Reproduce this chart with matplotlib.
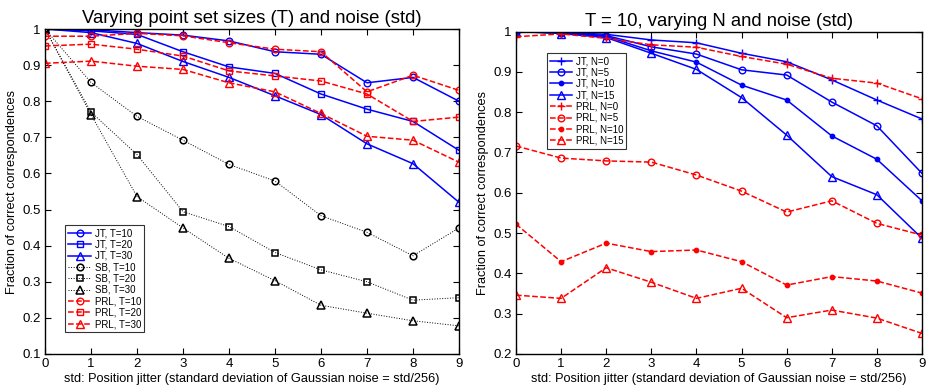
import matplotlib
matplotlib.use("Agg")
import matplotlib.pyplot as plt
import numpy as np

plt.rcParams['font.family'] = ['Liberation Sans', 'DejaVu Sans']

std = [0, 1, 2, 3, 4, 5, 6, 7, 8, 9]

# Left panel: varying point set sizes T
jt_t10 = [1.0, 0.998, 0.99, 0.983, 0.967, 0.937, 0.93, 0.851, 0.866, 0.80]
jt_t20 = [1.0, 0.995, 0.985, 0.937, 0.895, 0.877, 0.82, 0.778, 0.744, 0.664]
jt_t30 = [1.0, 0.99, 0.96, 0.91, 0.866, 0.815, 0.763, 0.682, 0.627, 0.52]
sb_t10 = [1.0, 0.852, 0.758, 0.692, 0.625, 0.579, 0.483, 0.437, 0.372, 0.449]
sb_t20 = [1.0, 0.770, 0.652, 0.494, 0.453, 0.381, 0.333, 0.30, 0.249, 0.256]
sb_t30 = [1.0, 0.763, 0.536, 0.449, 0.365, 0.303, 0.235, 0.213, 0.192, 0.178]
prl_t10 = [0.98, 0.98, 0.988, 0.981, 0.962, 0.944, 0.937, 0.826, 0.872, 0.83]
prl_t20 = [0.953, 0.958, 0.944, 0.925, 0.884, 0.87, 0.856, 0.82, 0.744, 0.756]
prl_t30 = [0.905, 0.911, 0.897, 0.888, 0.851, 0.826, 0.766, 0.703, 0.692, 0.631]

# Right panel: T = 10, varying outliers N
jt_n0 = [1.0, 0.998, 0.993, 0.979, 0.972, 0.946, 0.925, 0.88, 0.83, 0.783]
jt_n5 = [1.0, 0.997, 0.99, 0.962, 0.944, 0.905, 0.892, 0.825, 0.766, 0.648]
jt_n10 = [1.0, 0.996, 0.988, 0.952, 0.924, 0.867, 0.83, 0.741, 0.683, 0.58]
jt_n15 = [1.0, 0.995, 0.985, 0.946, 0.906, 0.836, 0.743, 0.64, 0.595, 0.487]
prl_n0 = [0.987, 0.994, 0.983, 0.967, 0.961, 0.938, 0.919, 0.884, 0.872, 0.833]
prl_n5 = [0.716, 0.686, 0.679, 0.676, 0.644, 0.604, 0.552, 0.580, 0.524, 0.495]
prl_n10 = [0.522, 0.429, 0.475, 0.454, 0.458, 0.429, 0.371, 0.392, 0.381, 0.351]
prl_n15 = [0.346, 0.338, 0.414, 0.378, 0.338, 0.363, 0.29, 0.309, 0.289, 0.251]

left_yticks = [0.1, 0.2, 0.3, 0.4, 0.5, 0.6, 0.7, 0.8, 0.9, 1.0]
left_yticklabels = ['0.1', '0.2', '0.3', '0.4', '0.5', '0.6', '0.7', '0.8', '0.9', '1']
right_yticks = [0.2, 0.3, 0.4, 0.5, 0.6, 0.7, 0.8, 0.9, 1.0]
right_yticklabels = ['0.2', '0.3', '0.4', '0.5', '0.6', '0.7', '0.8', '0.9', '1']

xlabel = 'std: Position jitter (standard deviation of Gaussian noise = std/256)'
ylabel = 'Fraction of correct correspondences'

fig = plt.figure(figsize=(9.28, 3.9), dpi=100)
axL = fig.add_axes([45/928, 36/390, 414/928, 325/390])
axR = fig.add_axes([516/928, 36/390, 406/928, 322.5/390])

blue = (0, 0, 1)
red = (1, 0, 0)
ms = 4.8
lw = 1.1

def style(ax, yticks, ylabels, ylim, title):
    ax.set_xlim(0, 9)
    ax.set_ylim(*ylim)
    ax.set_xticks(std)
    ax.set_yticks(yticks)
    ax.set_yticklabels(ylabels)
    ax.tick_params(direction='in', top=True, right=True, length=4, width=0.8,
                   labelsize=9.5, pad=3)
    for s in ax.spines.values():
        s.set_linewidth(1.0)
    ax.set_xlabel(xlabel, fontsize=9.2, labelpad=2)
    ax.set_ylabel(ylabel, fontsize=9.2, labelpad=3)
    ax.set_title(title, fontsize=13.3, pad=4)

# Left panel
axL.plot(std, jt_t10, '-', color=blue, lw=lw, marker='o', ms=ms, mfc='none', mew=1.0, label='JT, T=10')
axL.plot(std, jt_t20, '-', color=blue, lw=lw, marker='s', ms=ms-0.7, mfc='none', mew=1.0, label='JT, T=20')
axL.plot(std, jt_t30, '-', color=blue, lw=lw, marker='^', ms=ms+0.5, mfc='none', mew=1.0, label='JT, T=30')
axL.plot(std, sb_t10, ':', color='k', lw=0.7, marker='o', ms=ms, mfc='none', mew=1.1, label='SB, T=10')
axL.plot(std, sb_t20, ':', color='k', lw=0.7, marker='s', ms=ms-0.7, mfc='none', mew=1.1, label='SB, T=20')
axL.plot(std, sb_t30, ':', color='k', lw=0.7, marker='^', ms=ms+0.5, mfc='none', mew=1.1, label='SB, T=30')
axL.plot(std, prl_t10, '--', color=red, lw=lw, marker='o', ms=ms, mfc='none', mew=1.0, label='PRL, T=10')
axL.plot(std, prl_t20, '--', color=red, lw=lw, marker='s', ms=ms-0.7, mfc='none', mew=1.0, label='PRL, T=20')
axL.plot(std, prl_t30, '--', color=red, lw=lw, marker='^', ms=ms+0.5, mfc='none', mew=1.0, label='PRL, T=30')
style(axL, left_yticks, left_yticklabels, (0.1, 1.0), 'Varying point set sizes (T) and noise (std)')
legL = axL.legend(loc='lower left', bbox_to_anchor=(20.5/414, 22/325), fontsize=7,
                  frameon=True, fancybox=False, edgecolor='k', borderpad=0.3,
                  labelspacing=0.14, handlelength=2.3, handletextpad=0.4, borderaxespad=0)
legL.get_frame().set_linewidth(0.8)

# Right panel
axR.plot(std, jt_n0, '-', color=blue, lw=lw, marker='+', ms=ms+1.5, mew=1.0, label='JT, N=0')
axR.plot(std, jt_n5, '-', color=blue, lw=lw, marker='o', ms=ms, mfc='none', mew=1.0, label='JT, N=5')
axR.plot(std, jt_n10, '-', color=blue, lw=lw, marker='.', ms=ms+1.5, label='JT, N=10')
axR.plot(std, jt_n15, '-', color=blue, lw=lw, marker='^', ms=ms+0.5, mfc='none', mew=1.0, label='JT, N=15')
axR.plot(std, prl_n0, '--', color=red, lw=lw, marker='+', ms=ms+1.5, mew=1.0, label='PRL, N=0')
axR.plot(std, prl_n5, '--', color=red, lw=lw, marker='o', ms=ms, mfc='none', mew=1.0, label='PRL, N=5')
axR.plot(std, prl_n10, '--', color=red, lw=lw, marker='.', ms=ms+1.5, label='PRL, N=10')
axR.plot(std, prl_n15, '--', color=red, lw=lw, marker='^', ms=ms+0.5, mfc='none', mew=1.0, label='PRL, N=15')
style(axR, right_yticks, right_yticklabels, (0.2, 1.0), 'T = 10, varying N and noise (std)')
legR = axR.legend(loc='upper left', bbox_to_anchor=(30.7/406, 1 - 21.7/322.5), fontsize=7,
                  frameon=True, fancybox=False, edgecolor='k', borderpad=0.3,
                  labelspacing=0.14, handlelength=2.3, handletextpad=0.4, borderaxespad=0)
legR.get_frame().set_linewidth(0.8)

fig.savefig('out.png', dpi=100)
